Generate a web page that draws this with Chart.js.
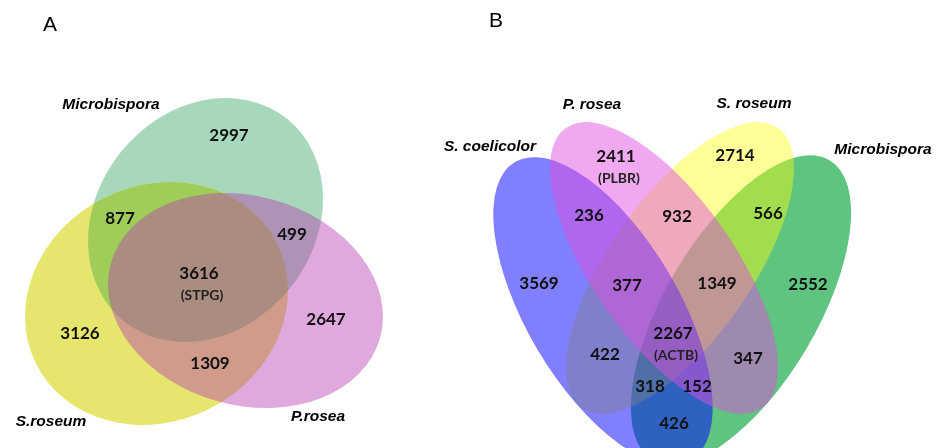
<!DOCTYPE html>
<html>
<head>
<meta charset="utf-8">
<script src="https://cdn.jsdelivr.net/npm/chart.js@4/dist/chart.umd.min.js"></script>
<style>
  html, body { margin: 0; padding: 0; background: #ffffff; }
  #wrap { width: 942px; height: 448px; position: relative; }
</style>
</head>
<body>
<div id="wrap"><canvas id="venn" width="942" height="448"></canvas></div>
<script>
// ---- Panel A: three genomes ----
const setNamesA = ['Microbispora', 'S.roseum', 'P.rosea'];
// region order: M only, M∩S, M∩P, M∩S∩P, S only, P only, S∩P
const regionCountsA = [2997, 877, 499, 3616, 3126, 2647, 1309];
const regionTagsA   = ['', '', '', '(STPG)', '', '', ''];

// ---- Panel B: four genomes ----
const setNamesB = ['S. coelicolor', 'P. rosea', 'S. roseum', 'Microbispora'];
// region order: P only, R only, C∩P, P∩R, R∩M, C only, C∩P∩R, P∩R∩M, M only,
//               all four, C∩R, P∩M, C∩R∩M, C∩P∩M, C∩M
const regionCountsB = [2411, 2714, 236, 932, 566, 3569, 377, 1349, 2552, 2267, 422, 347, 318, 152, 426];
const regionTagsB   = ['(PLBR)', '', '', '', '', '', '', '', '', '(ACTB)', '', '', '', '', ''];

const panelTitles = ['A', 'B'];

// ---- layout (data units of the x/y scales) ----
const layout = {
  A: {
    ellipses: [ // cx, cy, rx, ry, rotation (deg)
      { cx: 205.5, cy: 220, rx: 108.6, ry: 130, rot: 38.9 },   // Microbispora
      { cx: 156.5, cy: 303.5, rx: 134.7, ry: 117.9, rot: -26.7 }, // S.roseum
      { cx: 245.5, cy: 300.5, rx: 139.7, ry: 104.6, rot: 15.5 }   // P.rosea
    ],
    names: [[111, 105], [51, 422], [318, 417]],
    regions: [[229, 136], [120, 219], [292, 235], [199, 274], [80, 334], [326, 320], [210, 364]],
    title: [50, 25]
  },
  B: {
    ellipses: [
      { cx: 603, cy: 311, rx: 76, ry: 173, rot: -30.6 },  // S. coelicolor
      { cx: 664, cy: 268, rx: 71, ry: 171, rot: -35 },    // P. rosea
      { cx: 680, cy: 268, rx: 71, ry: 171, rot: 35 },     // S. roseum
      { cx: 741, cy: 310, rx: 76, ry: 174, rot: 30.6 }    // Microbispora
    ],
    names: [[490, 147], [592, 105], [754, 104], [883, 150]],
    regions: [[616, 157], [735, 156], [589, 216], [677, 217], [768, 214], [539, 284], [627, 286],
              [717, 284], [808, 285], [673, 334], [605, 355], [748, 359], [650, 387], [697, 387], [674, 424]],
    title: [496, 21]
  }
};

const styleA = {
  green: 'rgb(168,216,188)',
  yellow: 'rgb(230,230,110)',
  greenYellow: 'rgb(160,205,90)',
  pink: 'rgba(183,59,178,0.44)'
};
const styleB = {
  green: 'rgb(94,196,128)',
  yellow: 'rgba(255,255,10,0.42)',
  blue: 'rgba(0,0,255,0.5)',
  pink: 'rgba(224,78,224,0.49)'
};

const NUM_FONT = 'bold 17px Lato, "Open Sans", sans-serif';
const TAG_FONT = 'bold 14px Lato, "Open Sans", sans-serif';
const NAME_FONT = 'italic bold 15.5px "Liberation Sans", Arial, sans-serif';
const TITLE_FONT = '21px "Liberation Sans", Arial, sans-serif';

function ellipsePath(ctx, xs, ys, e) {
  const px = xs.getPixelForValue(e.cx);
  const py = ys.getPixelForValue(e.cy);
  const rxp = Math.abs(xs.getPixelForValue(e.cx + e.rx) - px);
  const ryp = Math.abs(ys.getPixelForValue(e.cy + e.ry) - py);
  ctx.beginPath();
  ctx.ellipse(px, py, rxp, ryp, e.rot * Math.PI / 180, 0, Math.PI * 2);
  ctx.closePath();
}

function fillEllipse(ctx, xs, ys, e, color) {
  ellipsePath(ctx, xs, ys, e);
  ctx.fillStyle = color;
  ctx.fill();
}

function drawText(ctx, xs, ys, x, y, text, font, color) {
  ctx.font = font;
  ctx.fillStyle = color || '#111';
  ctx.textAlign = 'center';
  ctx.textBaseline = 'middle';
  ctx.fillText(text, xs.getPixelForValue(x), ys.getPixelForValue(y));
}

const vennPlugin = {
  id: 'vennPanels',
  beforeDatasetsDraw(chart) {
    const ctx = chart.ctx;
    const xs = chart.scales.x, ys = chart.scales.y;

    // Panel A: green, yellow, the green/yellow lens, then translucent pink on top
    const ea = layout.A.ellipses;
    ctx.save();
    fillEllipse(ctx, xs, ys, ea[0], styleA.green);
    fillEllipse(ctx, xs, ys, ea[1], styleA.yellow);
    ctx.save();
    ellipsePath(ctx, xs, ys, ea[0]);
    ctx.clip();
    fillEllipse(ctx, xs, ys, ea[1], styleA.greenYellow);
    ctx.restore();
    fillEllipse(ctx, xs, ys, ea[2], styleA.pink);
    ctx.restore();

    // Panel B: green, yellow, blue, pink (stacked translucent fills)
    const eb = layout.B.ellipses;
    ctx.save();
    fillEllipse(ctx, xs, ys, eb[3], styleB.green);
    fillEllipse(ctx, xs, ys, eb[2], styleB.yellow);
    fillEllipse(ctx, xs, ys, eb[0], styleB.blue);
    fillEllipse(ctx, xs, ys, eb[1], styleB.pink);
    ctx.restore();
  },
  afterDatasetsDraw(chart) {
    const ctx = chart.ctx;
    const xs = chart.scales.x, ys = chart.scales.y;
    ctx.save();
    // panel letters
    drawText(ctx, xs, ys, layout.A.title[0], layout.A.title[1], panelTitles[0], TITLE_FONT, '#000');
    drawText(ctx, xs, ys, layout.B.title[0], layout.B.title[1], panelTitles[1], TITLE_FONT, '#000');
    // set names
    setNamesA.forEach((n, i) => drawText(ctx, xs, ys, layout.A.names[i][0], layout.A.names[i][1], n, NAME_FONT, '#000'));
    setNamesB.forEach((n, i) => drawText(ctx, xs, ys, layout.B.names[i][0], layout.B.names[i][1], n, NAME_FONT, '#000'));
    // region counts and tags
    regionCountsA.forEach((v, i) => {
      const [x, y] = layout.A.regions[i];
      drawText(ctx, xs, ys, x, y, String(v), NUM_FONT, '#111');
      if (regionTagsA[i]) drawText(ctx, xs, ys, x + 3, y + 21, regionTagsA[i], TAG_FONT, '#222');
    });
    regionCountsB.forEach((v, i) => {
      const [x, y] = layout.B.regions[i];
      drawText(ctx, xs, ys, x, y, String(v), NUM_FONT, '#111');
      if (regionTagsB[i]) drawText(ctx, xs, ys, x + 3, y + 21, regionTagsB[i], TAG_FONT, '#222');
    });
    ctx.restore();
  }
};

new Chart(document.getElementById('venn'), {
  type: 'scatter',
  data: { datasets: [{ data: [], pointRadius: 0 }] },
  options: {
    responsive: false,
    animation: false,
    devicePixelRatio: 1,
    layout: { padding: 0 },
    plugins: { legend: { display: false }, tooltip: { enabled: false } },
    scales: {
      x: { type: 'linear', min: 0, max: 942, display: false },
      y: { type: 'linear', min: 0, max: 448, reverse: true, display: false }
    }
  },
  plugins: [vennPlugin]
});
</script>
</body>
</html>
